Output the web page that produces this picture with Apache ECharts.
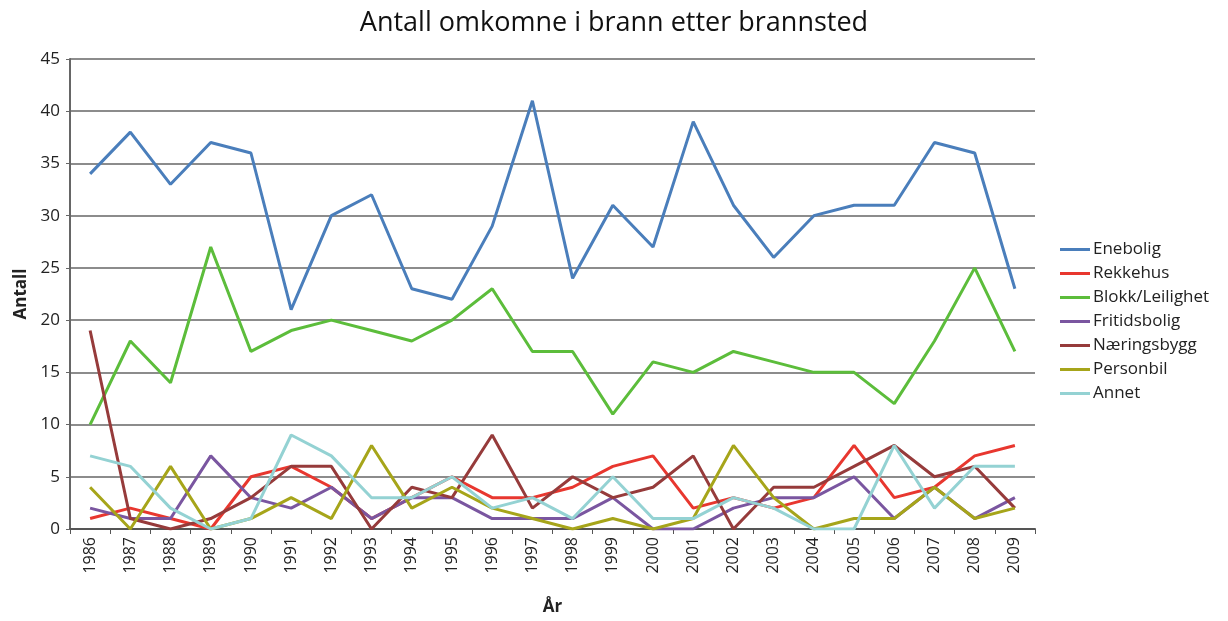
<!DOCTYPE html>
<html>
<head>
<meta charset="utf-8">
<title>Antall omkomne i brann etter brannsted</title>
<script src="https://cdn.jsdelivr.net/npm/echarts@6/dist/echarts.min.js"></script>
<style>
  html, body { margin: 0; padding: 0; background: #fff; }
  #chart { width: 1228px; height: 621px; }
</style>
</head>
<body>
<div id="chart"></div>
<script>
// år
const years = ['1986', '1987', '1988', '1989', '1990', '1991', '1992', '1993', '1994', '1995', '1996', '1997',
  '1998', '1999', '2000', '2001', '2002', '2003', '2004', '2005', '2006', '2007', '2008', '2009']

const enebolig = [34, 38, 33, 37, 36, 21, 30, 32, 23, 22, 29, 41, 24, 31, 27, 39, 31, 26, 30, 31, 31, 37, 36, 23]
const rekkehus = [1, 2, 1, 0, 5, 6, 4, 1, 3, 5, 3, 3, 4, 6, 7, 2, 3, 2, 3, 8, 3, 4, 7, 8]
const blokk = [10, 18, 14, 27, 17, 19, 20, 19, 18, 20, 23, 17, 17, 11, 16, 15, 17, 16, 15, 15, 12, 18, 25, 17]
const fritidsbolig = [2, 1, 1, 7, 3, 2, 4, 1, 3, 3, 1, 1, 1, 3, 0, 0, 2, 3, 3, 5, 1, 4, 1, 3]
const naeringsbygg = [19, 1, 0, 1, 3, 6, 6, 0, 4, 3, 9, 2, 5, 3, 4, 7, 0, 4, 4, 6, 8, 5, 6, 2]
const personbil = [4, 0, 6, 0, 1, 3, 1, 8, 2, 4, 2, 1, 0, 1, 0, 1, 8, 3, 0, 1, 1, 4, 1, 2]
const annet = [7, 6, 2, 0, 1, 9, 7, 3, 3, 5, 2, 3, 1, 5, 1, 1, 3, 2, 0, 0, 8, 2, 6, 6]

const seriesDefs = [
  { name: 'Enebolig', data: enebolig, color: '#4a7ebb' },
  { name: 'Rekkehus', data: rekkehus, color: '#e8372f' },
  { name: 'Blokk/Leilighet', data: blokk, color: '#5cbd3b' },
  { name: 'Fritidsbolig', data: fritidsbolig, color: '#7a56a0' },
  { name: 'Næringsbygg', data: naeringsbygg, color: '#963b3b' },
  { name: 'Personbil', data: personbil, color: '#a6a51a' },
  { name: 'Annet', data: annet, color: '#94d2d3' }
]

const font = 'Open Sans, sans-serif'

const chart = echarts.init(document.getElementById('chart'))
chart.setOption({
  animation: false,
  backgroundColor: '#fff',
  title: {
    text: 'Antall omkomne i brann etter brannsted',
    left: 'center',
    top: 5,
    textStyle: { fontFamily: font, fontSize: 27, fontWeight: 'normal', color: '#111' }
  },
  legend: {
    orient: 'vertical',
    left: 1055,
    top: 236,
    itemWidth: 30,
    itemHeight: 3,
    itemGap: 7,
    icon: 'rect',
    textStyle: { fontFamily: font, fontSize: 17, color: '#222', padding: [0, 0, 0, -2] },
    data: seriesDefs.map(s => s.name)
  },
  grid: { left: 70, right: 193, top: 59, bottom: 92 },
  xAxis: {
    type: 'category',
    data: years,
    boundaryGap: true,
    name: 'År',
    nameLocation: 'middle',
    nameGap: 70,
    nameTextStyle: { fontFamily: font, fontSize: 17, fontWeight: 'bold', color: '#222' },
    axisLine: { lineStyle: { color: '#555', width: 2 } },
    axisTick: { show: true, length: 5, lineStyle: { color: '#555' } },
    axisLabel: { rotate: 90, fontFamily: font, fontSize: 16, color: '#222', margin: 8 }
  },
  yAxis: {
    type: 'value',
    min: 0,
    max: 45,
    interval: 5,
    name: 'Antall',
    nameLocation: 'middle',
    nameGap: 40,
    nameTextStyle: { fontFamily: font, fontSize: 17, fontWeight: 'bold', color: '#222' },
    axisLine: { show: true, lineStyle: { color: '#666', width: 2 } },
    axisTick: { show: true, length: 4, lineStyle: { color: '#666' } },
    axisLabel: { fontFamily: font, fontSize: 17, color: '#222', margin: 10 },
    splitLine: { lineStyle: { color: '#666', width: 1.5 } }
  },
  series: seriesDefs.map(s => ({
    name: s.name,
    type: 'line',
    data: s.data,
    symbol: 'none',
    color: s.color,
    lineStyle: { width: 3, color: s.color }
  }))
})
</script>
</body>
</html>
